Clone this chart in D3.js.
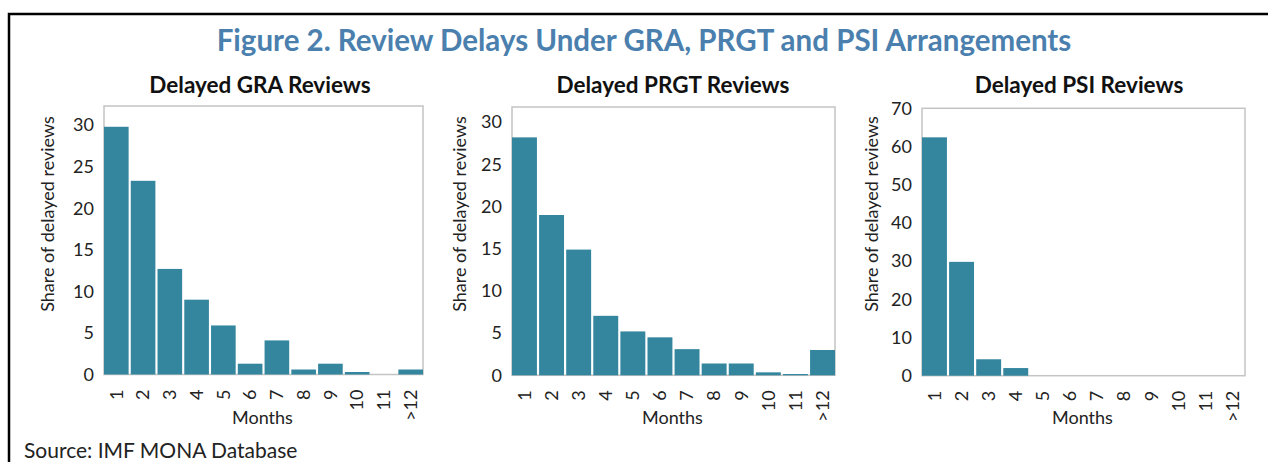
<!DOCTYPE html>
<html>
<head>
<meta charset="utf-8">
<title>Review Delays</title>
<script src="https://d3js.org/d3.v7.min.js"></script>
<style>
  body { margin: 0; background: #fff; }
  svg { display: block; font-family: Lato, "Open Sans", sans-serif; }
  .tick text { fill: #222; }
</style>
</head>
<body>
<div id="chart"></div>
<script>
// data (share of delayed reviews, %)
const months = ["1", "2", "3", "4", "5", "6", "7", "8", "9", "10", "11", ">12"];
const graValues  = [29.8, 23.3, 12.7, 9.0, 5.9, 1.3, 4.1, 0.6, 1.3, 0.3, 0, 0.6];
const prgtValues = [28.2, 19.0, 14.9, 7.05, 5.2, 4.5, 3.1, 1.4, 1.4, 0.35, 0.15, 3.0];
const psiValues  = [62.4, 29.8, 4.3, 2.0, 0, 0, 0, 0, 0, 0, 0, 0];
const graTicks  = [0, 5, 10, 15, 20, 25, 30];
const prgtTicks = [0, 5, 10, 15, 20, 25, 30];
const psiTicks  = [0, 10, 20, 30, 40, 50, 60, 70];
const subtitles = ["Delayed GRA Reviews", "Delayed PRGT Reviews", "Delayed PSI Reviews"];

const W = 1268, H = 462;
const barColor = "#33869e";
const boxColor = "#c4c4c4";

const svg = d3.select("#chart").append("svg")
    .attr("width", W).attr("height", H);

// outer frame (top + left visible)
svg.append("path")
   .attr("d", "M9,462 V14 H1268")
   .attr("fill", "none")
   .attr("stroke", "#000")
   .attr("stroke-width", 2.5);

svg.append("text")
   .attr("x", 644).attr("y", 51)
   .attr("text-anchor", "middle")
   .attr("font-weight", "bold")
   .attr("font-size", "29.5px")
   .attr("fill", "#4a7fae")
   .text("Figure 2. Review Delays Under GRA, PRGT and PSI Arrangements");

svg.append("text")
   .attr("x", 24).attr("y", 458)
   .attr("font-size", "21px")
   .attr("fill", "#222")
   .text("Source: IMF MONA Database");

// panel placement
const panels = [
  {values: graValues,  ticks: graTicks,  ymax: 32.3, left: 104, right: 423,  top: 106,   zero: 374.5, sub: 260,  ytitle: 48},
  {values: prgtValues, ticks: prgtTicks, ymax: 31.8, left: 512, right: 835,  top: 107,   zero: 375.3, sub: 673,  ytitle: 460},
  {values: psiValues,  ticks: psiTicks,  ymax: 70,   left: 922, right: 1245, top: 108.3, zero: 375.7, sub: 1079, ytitle: 872}
];

panels.forEach(function(p, i) {
    let g = svg.append("g");

    let x = d3.scaleBand()
              .domain(months)
              .range([p.left, p.right])
              .paddingInner(0.08)
              .paddingOuter(0);

    let y = d3.scaleLinear()
              .domain([0, p.ymax])
              .range([p.zero, p.top]);

    // subtitle
    g.append("text")
     .attr("x", p.sub).attr("y", 93)
     .attr("text-anchor", "middle")
     .attr("font-weight", "bold")
     .attr("font-size", "22.5px")
     .attr("fill", "#111")
     .text(subtitles[i]);

    // plot area box
    g.append("rect")
     .attr("x", p.left).attr("y", p.top)
     .attr("width", p.right - p.left)
     .attr("height", p.zero - p.top)
     .attr("fill", "none")
     .attr("stroke", boxColor)
     .attr("stroke-width", 1.5);

    // bars
    g.selectAll("rect.bar")
     .data(p.values)
     .enter()
     .append("rect")
     .attr("class", "bar")
     .attr("x", function(d, j) { return x(months[j]); })
     .attr("width", x.bandwidth())
     .attr("y", function(d) { return y(d); })
     .attr("height", function(d) { return y(0) - y(d); })
     .attr("fill", barColor);

    // y axis
    let yAxis = d3.axisLeft(y).tickValues(p.ticks).tickSize(0).tickPadding(10);
    let ya = g.append("g")
              .attr("transform", "translate(" + p.left + ",0)")
              .call(yAxis);
    ya.select(".domain").remove();
    ya.selectAll("text").attr("font-size", "18px").attr("font-family", "Lato, sans-serif");

    // x axis (rotated labels)
    let xAxis = d3.axisBottom(x).tickSize(0).tickPadding(0);
    let xa = g.append("g")
              .attr("transform", "translate(0," + p.zero + ")")
              .call(xAxis);
    xa.select(".domain").remove();
    xa.selectAll("text")
      .attr("font-size", "18px")
      .attr("font-family", "Lato, sans-serif")
      .attr("transform", "translate(0,15) rotate(-90)")
      .attr("y", 0)
      .attr("dy", "0.35em")
      .attr("text-anchor", "end");

    // axis titles
    g.append("text")
     .attr("transform", "translate(" + p.ytitle + ",214) rotate(-90)")
     .attr("text-anchor", "middle")
     .attr("dy", "0.35em")
     .attr("font-size", "18px")
     .attr("fill", "#222")
     .text("Share of delayed reviews");

    g.append("text")
     .attr("x", (p.left + p.right) / 2 - 1)
     .attr("y", 424)
     .attr("text-anchor", "middle")
     .attr("font-size", "18px")
     .attr("fill", "#222")
     .text("Months");
});
</script>
</body>
</html>
